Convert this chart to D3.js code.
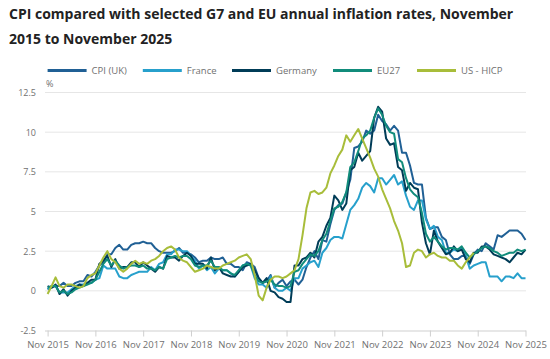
<!DOCTYPE html>
<html><head><meta charset="utf-8">
<script src="https://cdn.jsdelivr.net/npm/d3@7"></script>
<style>body{margin:0;background:#fff}svg{display:block;font-family:"Open Sans",sans-serif}</style>
</head><body><svg id="c" width="550" height="359"></svg>
<script>
const titleLines = ["CPI compared with selected G7 and EU annual inflation rates, November", "2015 to November 2025"];
const xTickLabels = ["Nov 2015","Nov 2016","Nov 2017","Nov 2018","Nov 2019","Nov 2020","Nov 2021","Nov 2022","Nov 2023","Nov 2024","Nov 2025"];
const yTicks = [-2.5, 0, 2.5, 5, 7.5, 10, 12.5];
const seriesNames = ["CPI (UK)", "France", "Germany", "EU27", "US - HICP"];
const seriesColors = ["#206095", "#27a0cc", "#003c57", "#118c7b", "#a8bd3a"];
// Monthly values from Nov 2015
const cpiUK = [0.1,0.2, 0.3,0.3,0.5,0.3,0.3,0.5,0.6,0.6,1.0,0.9,1.2,1.6, 1.8,2.3,2.3,2.7,2.9,2.6,2.6,2.9,3.0,3.0,3.1,3.0, 3.0,2.7,2.5,2.4,2.4,2.4,2.5,2.7,2.4,2.4,2.3,2.1, 1.8,1.9,1.9,2.1,2.0,2.0,2.1,1.7,1.7,1.5,1.5,1.3, 1.8,1.7,1.5,0.8,0.5,0.6,1.0,0.2,0.5,0.7,0.3,0.6, 0.7,0.4,0.7,1.5,2.1,2.5,2.0,3.2,3.1,4.2,5.1,5.4, 5.5,6.2,7.0,9.0,9.1,9.4,10.1,9.9,10.1,11.1,10.7,10.5, 10.1,10.4,10.1,8.7,8.7,7.9,6.8,6.7,6.7,4.6,3.9,4.0, 4.0,3.4,3.2,2.3,2.0,2.0,2.2,2.2,1.7,2.3,2.6,2.5, 3.0,2.8,2.6,3.5,3.4,3.6,3.8,3.8,3.8,3.6,3.2];
const france = [0.1,0.3, 0.3,-0.1,-0.1,-0.1,0.1,0.3,0.4,0.4,0.5,0.5,0.7,0.8, 1.6,1.4,1.4,1.4,0.9,0.8,0.8,1.0,1.1,1.2,1.2,1.2, 1.5,1.3,1.7,1.8,2.3,2.3,2.6,2.6,2.5,2.5,2.2,1.9, 1.4,1.6,1.3,1.5,1.1,1.4,1.3,1.3,1.1,0.9,1.2,1.6, 1.7,1.6,0.8,0.4,0.4,0.2,0.9,0.2,0.0,0.0,0.2,0.0, 0.8,0.8,1.4,1.6,1.8,1.9,1.5,2.4,2.7,3.2,3.4,3.4, 3.3,4.2,5.1,5.4,5.8,6.5,6.8,6.6,6.2,7.1,7.1,6.7, 7.0,7.3,6.7,6.9,6.0,5.3,5.1,5.7,5.7,4.5,3.9,4.1, 3.4,3.2,2.4,2.4,2.6,2.5,2.7,2.2,1.4,1.6,1.7,1.8, 1.8,0.9,0.9,0.9,0.6,0.9,0.9,0.8,1.1,0.8,0.8];
const germany = [0.3,0.2, 0.4,-0.2,0.1,-0.3,0.0,0.2,0.4,0.3,0.5,0.7,0.7,1.7, 1.9,2.2,1.5,2.0,1.4,1.5,1.5,1.8,1.8,1.5,1.8,1.6, 1.4,1.2,1.5,1.4,2.2,2.1,2.1,1.9,2.2,2.4,2.2,1.7, 1.7,1.7,1.4,2.1,1.3,1.5,1.1,1.0,0.9,0.9,1.2,1.5, 1.6,1.7,1.3,0.8,0.5,0.8,0.0,-0.1,-0.4,-0.5,-0.7,-0.7, 1.6,1.6,2.0,2.1,2.4,2.1,3.1,3.4,4.1,4.6,6.0,5.7, 5.1,5.5,7.6,7.8,8.7,8.2,8.5,8.8,10.9,11.6,11.3,9.6, 9.2,9.3,7.8,7.6,6.3,6.8,6.5,6.4,4.3,3.0,2.3,3.8, 3.1,2.7,2.3,2.4,2.8,2.5,2.6,2.0,1.8,2.4,2.4,2.8, 2.8,2.6,2.3,2.2,2.1,2.0,1.8,2.1,2.4,2.3,2.6];
const eu27 = [0.2,0.3, 0.3,-0.1,0.0,-0.2,-0.1,0.1,0.2,0.3,0.4,0.5,0.7,1.2, 1.7,2.0,1.6,1.9,1.6,1.4,1.5,1.6,1.6,1.5,1.6,1.4, 1.4,1.3,1.5,1.4,2.0,2.1,2.2,2.1,2.2,2.2,2.0,1.6, 1.5,1.6,1.6,1.9,1.5,1.5,1.3,1.3,1.1,1.0,1.3,1.6, 1.7,1.6,1.0,0.6,0.5,0.6,0.7,0.4,0.3,0.3,0.2,0.3, 1.2,1.3,1.7,2.0,2.3,2.2,2.5,3.2,3.6,4.4,5.2,5.3, 5.6,6.2,7.8,8.1,8.8,9.6,9.8,10.1,10.9,11.5,11.1,10.4, 10.0,9.9,8.3,8.1,7.1,6.4,6.1,5.9,4.9,3.6,3.1,3.4, 3.1,2.8,2.6,2.7,2.7,2.6,2.8,2.4,2.1,2.3,2.5,2.7, 2.8,2.7,2.5,2.4,2.2,2.3,2.4,2.4,2.6,2.5,2.6];
const usHICP = [-0.2,0.3, 0.85,0.3,0.2,0.4,0.4,0.3,0.2,0.3,0.8,1.0,1.1,1.6, 2.1,2.5,2.0,1.8,1.4,1.2,1.4,1.7,1.9,1.7,1.8,1.7, 1.9,2.0,2.2,2.5,2.7,2.8,2.6,2.1,1.9,1.8,1.5,1.2, 1.3,1.4,1.6,1.5,1.4,1.4,1.6,1.7,1.8,1.9,2.1,2.2, 2.3,2.0,1.0,-0.3,-0.6,0.2,0.7,0.9,0.9,0.8,0.9,1.1, 1.3,2.0,3.5,5.2,6.2,6.3,6.1,6.2,6.5,7.4,7.9,8.5, 8.9,9.8,9.4,9.8,10.2,9.6,9.0,8.4,7.7,7.2,6.4,5.8, 5.2,4.4,3.8,3.0,1.5,1.6,2.4,2.6,2.5,2.1,2.3,2.4, 2.2,2.1,2.1,1.9,1.9,1.6,1.4,1.8,2.1,2.4];
const allSeries = [cpiUK, france, germany, eu27, usHICP];

const svg = d3.select("#c");
const x = d3.scaleLinear().domain([0, 120]).range([47.6, 525.5]);
const y = d3.scaleLinear().domain([-2.5, 12.5]).range([330.5, 92.5]);

// title
svg.append("g").selectAll("text").data(titleLines).join("text")
  .attr("x", 9).attr("y", (d,i) => 19 + i*24.5)
  .attr("font-size", 14).attr("font-weight", 700).attr("fill", "#222")
  .text(d => d);

// legend
const legX = [47.6, 142.8, 232, 333, 417];
const leg = svg.append("g").selectAll("g").data(seriesNames).join("g")
  .attr("transform", (d,i) => `translate(${legX[i]},70.5)`);
leg.append("line").attr("x1", 0).attr("x2", 39).attr("stroke", (d,i) => seriesColors[i]).attr("stroke-width", 3);
leg.append("text").attr("x", 44).attr("dy", "0.35em").attr("font-size", 9.5).attr("fill", "#707070").text(d => d);

// gridlines
svg.append("g").selectAll("line").data(yTicks.filter(v => v > -2.5)).join("line")
  .attr("x1", 45).attr("x2", 526).attr("y1", d => y(d)).attr("y2", d => y(d))
  .attr("stroke", "#e6e6e6").attr("stroke-width", 1);

// y axis
const yAxis = svg.append("g").attr("transform", "translate(36,0)")
  .call(d3.axisLeft(y).tickValues(yTicks).tickSize(0).tickPadding(0).tickFormat(d => String(d)));
yAxis.select(".domain").remove();
yAxis.selectAll("text").attr("font-size", 9).attr("fill", "#707070").attr("font-family", "Open Sans");

svg.append("text").attr("x", 46).attr("y", 87).attr("font-size", 9).attr("fill", "#707070").text("%");

// x axis
const xAxis = svg.append("g").attr("transform", `translate(0,${y(-2.5)})`)
  .call(d3.axisBottom(x).tickValues(d3.range(0, 121, 12)).tickSize(6).tickSizeOuter(0).tickPadding(5)
    .tickFormat((d,i) => xTickLabels[i]));
xAxis.select(".domain").attr("stroke", "#cfcfcf").attr("d", `M45,0.5H526`);
xAxis.selectAll(".tick line").attr("stroke", "#cfcfcf");
xAxis.selectAll("text").attr("font-size", 9.5).attr("fill", "#707070").attr("font-family", "Open Sans");

// lines
const line = d3.line().x((d,i) => x(i)).y(d => y(d));
svg.append("g").selectAll("path").data(allSeries).join("path")
  .attr("d", line).attr("fill", "none")
  .attr("stroke", (d,i) => seriesColors[i]).attr("stroke-width", 2)
  .attr("stroke-linejoin", "round");
</script></body></html>
